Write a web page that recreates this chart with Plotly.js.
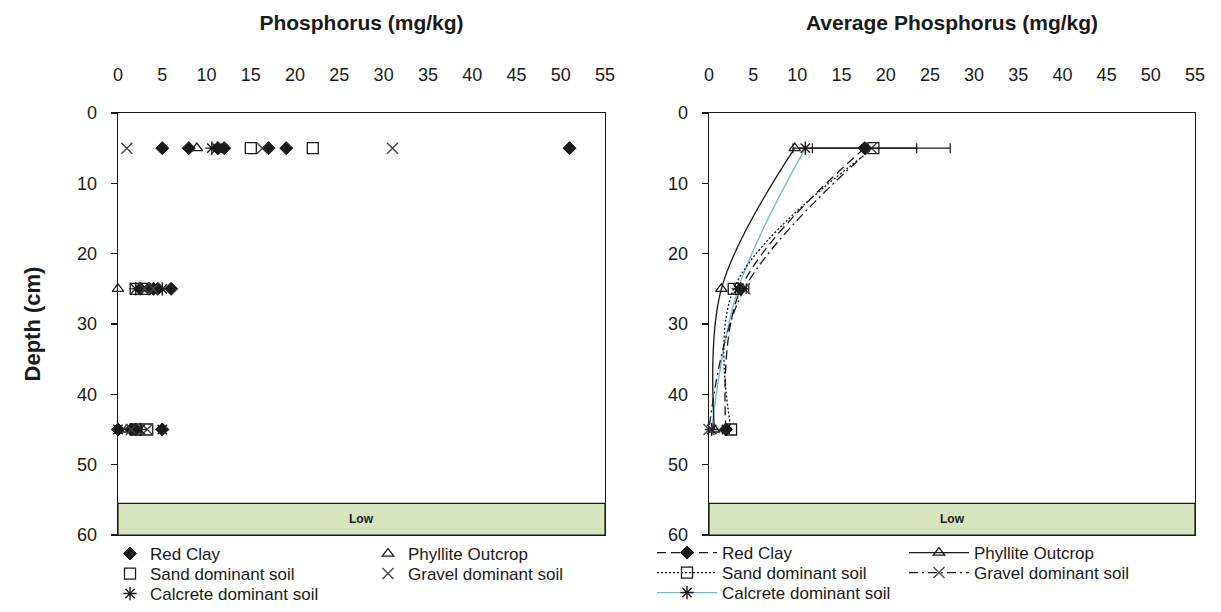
<!DOCTYPE html>
<html>
<head>
<meta charset="utf-8">
<script src="https://cdn.plot.ly/plotly-3.0.1.min.js"></script>
<style>
  html, body { margin: 0; padding: 0; background: #fff; }
  #chart { width: 1221px; height: 612px; }
</style>
</head>
<body>
<div id="chart"></div>
<script>
// ---- Individual soil samples: phosphorus (mg/kg) at sampling depth (cm) ----
const redClayP      = [5, 8, 11.3, 12, 17, 19, 51, 2.5, 3.5, 4, 4.5, 6, 0, 1.5, 2, 5];
const redClayDepth  = [5, 5, 5, 5, 5, 5, 5, 25, 25, 25, 25, 25, 45, 45, 45, 45];
const phylliteP     = [8.9, 0, 1];
const phylliteDepth = [5, 25, 45];
const sandP         = [15, 22, 2, 3, 2, 3.3];
const sandDepth     = [5, 5, 25, 25, 45, 45];
const gravelP       = [1, 16.3, 31, 3, 4, 3.3, 1.5];
const gravelDepth   = [5, 5, 5, 25, 25, 45, 45];
const calcreteP     = [10.6, 11.2, 2, 5, 0, 5, 2.5];
const calcreteDepth = [5, 5, 25, 25, 45, 45, 45];

// ---- Averages per soil type with standard error ----
const avgDepth    = [5, 25, 45];
const redClayAvg  = [17.6, 3.6, 1.9];
const redClayErr  = [5.9, 0.6, 0.4];
const phylliteAvg = [9.7, 1.4, 0.6];
const sandAvg     = [18.6, 2.8, 2.5];
const gravelAvg   = [18.4, 4.0, 0];
const gravelErr   = [8.9, 0.5, 0.3];
const calcreteAvg = [10.9, 3.3, 0.3];

// ---- Axis ticks and labels ----
const xTicks = [0, 5, 10, 15, 20, 25, 30, 35, 40, 45, 50, 55];
const yTicks = [0, 10, 20, 30, 40, 50, 60];
const bandLabel = 'Low';
const bandFrom = 55.5, bandTo = 60;

const FONT = 'Liberation Sans, Arial, sans-serif';
const W = 1221, H = 612;
const INK = '#1a1a1a';
const CALC_BLUE = '#74B8CF';

const leftDomX  = [118 / W, 605 / W];
const rightDomX = [709 / W, 1195 / W];
const domY      = [1 - 535 / H, 1 - 113 / H];

const mk = {
  redClay:  {symbol: 'diamond', size: 10, color: INK, line: {color: INK, width: 1}},
  phyllite: {symbol: 'triangle-up-open', size: 10, color: INK, line: {color: INK, width: 1.3}},
  sand:     {symbol: 'square-open', size: 11, color: INK, line: {color: INK, width: 1.3}},
  gravel:   {symbol: 'x-thin-open', size: 11, color: '#444', line: {color: '#444', width: 1.4}},
  calcrete: {symbol: 'asterisk-open', size: 11, color: INK, line: {color: INK, width: 1.4}}
};

function pts(name, x, y, marker, legend) {
  return {type: 'scatter', mode: 'markers', name, x, y, marker,
          xaxis: 'x', yaxis: 'y', legend, cliponaxis: false};
}
function avg(name, x, y, marker, line, legend, err) {
  const t = {type: 'scatter', mode: 'lines+markers', name, x, y, marker,
             line: Object.assign({shape: 'spline', smoothing: 1}, line),
             xaxis: 'x2', yaxis: 'y2', legend, cliponaxis: false};
  if (err) t.error_x = {type: 'data', array: err, visible: true, color: INK, thickness: 1.2, width: 5};
  return t;
}

const traces = [
  pts('Red Clay', redClayP, redClayDepth, mk.redClay, 'legend'),
  pts('Phyllite Outcrop', phylliteP, phylliteDepth, mk.phyllite, 'legend2'),
  pts('Sand dominant soil', sandP, sandDepth, mk.sand, 'legend3'),
  pts('Gravel dominant soil', gravelP, gravelDepth, mk.gravel, 'legend4'),
  pts('Calcrete dominant soil', calcreteP, calcreteDepth, mk.calcrete, 'legend5'),

  avg('Calcrete dominant soil', calcreteAvg, avgDepth, mk.calcrete, {color: CALC_BLUE, width: 1.3}, 'legend10'),
  avg('Phyllite Outcrop', phylliteAvg, avgDepth, mk.phyllite, {color: INK, width: 1.3}, 'legend7'),
  avg('Sand dominant soil', sandAvg, avgDepth, mk.sand, {color: INK, width: 1.3, dash: '2px,2px'}, 'legend8'),
  avg('Gravel dominant soil', gravelAvg, avgDepth, mk.gravel, {color: INK, width: 1.3, dash: '9px,4px,2px,4px'}, 'legend9', gravelErr),
  avg('Red Clay', redClayAvg, avgDepth, mk.redClay, {color: INK, width: 1.3, dash: '9px,5px'}, 'legend6', redClayErr)
];

function xAxis(domain, anchor, title) {
  return {
    domain, anchor, side: 'top', range: [0, 55], tickvals: xTicks,
    showline: true, mirror: true, linecolor: INK, linewidth: 1.3,
    ticks: '', showgrid: false, zeroline: false,
    ticklabelstandoff: 24,
    tickfont: {family: FONT, size: 18, color: INK},
    title: {text: title, standoff: 28, font: {family: FONT, size: 21, weight: 'bold', color: INK}}
  };
}
function yAxis(anchor, title) {
  const a = {
    domain: domY, anchor, range: [60, 0], tickvals: yTicks,
    showline: true, mirror: true, linecolor: INK, linewidth: 1.3,
    ticks: 'outside', ticklen: 6, tickcolor: INK, tickwidth: 1.2,
    showgrid: false, zeroline: false, ticklabelstandoff: 10,
    tickfont: {family: FONT, size: 18, color: INK}
  };
  if (title) a.title = {text: title, standoff: 30, font: {family: FONT, size: 22, weight: 'bold', color: INK}};
  return a;
}

function band(xref, yref) {
  return {type: 'rect', xref, yref, x0: 0, x1: 55, y0: bandFrom, y1: bandTo,
          fillcolor: '#D7E4BD', line: {color: INK, width: 1.2}, layer: 'below'};
}
function bandText(xref, yref) {
  return {xref, yref, x: 27.5, y: (bandFrom + bandTo) / 2, text: bandLabel, showarrow: false,
          font: {family: FONT, size: 12, weight: 'bold', color: INK}};
}

function leg(xPx, yPx, itemwidth) {
  return {x: xPx / W, y: 1 - yPx / H, xanchor: 'left', yanchor: 'middle',
          bgcolor: 'rgba(0,0,0,0)', borderwidth: 0, itemwidth: itemwidth || 30,
          font: {family: FONT, size: 17, color: INK}};
}

const layout = {
  width: W, height: H,
  margin: {l: 0, r: 0, t: 0, b: 0, pad: 0},
  paper_bgcolor: '#fff', plot_bgcolor: 'rgba(0,0,0,0)',
  showlegend: true,
  xaxis: xAxis(leftDomX, 'y', 'Phosphorus (mg/kg)'),
  yaxis: yAxis('x', 'Depth (cm)'),
  xaxis2: xAxis(rightDomX, 'y2', 'Average Phosphorus (mg/kg)'),
  yaxis2: yAxis('x2'),
  shapes: [band('x', 'y'), band('x2', 'y2')],
  annotations: [bandText('x', 'y'), bandText('x2', 'y2')],
  legend:  leg(110, 554),
  legend2: leg(368, 554),
  legend3: leg(110, 574),
  legend4: leg(368, 574),
  legend5: leg(110, 594),
  legend6:  leg(652, 553, 60),
  legend7:  leg(904, 553, 60),
  legend8:  leg(652, 573, 60),
  legend9:  leg(904, 573, 60),
  legend10: leg(652, 593, 60)
};

Plotly.newPlot('chart', traces, layout, {displayModeBar: false, staticPlot: true});
</script>
</body>
</html>
